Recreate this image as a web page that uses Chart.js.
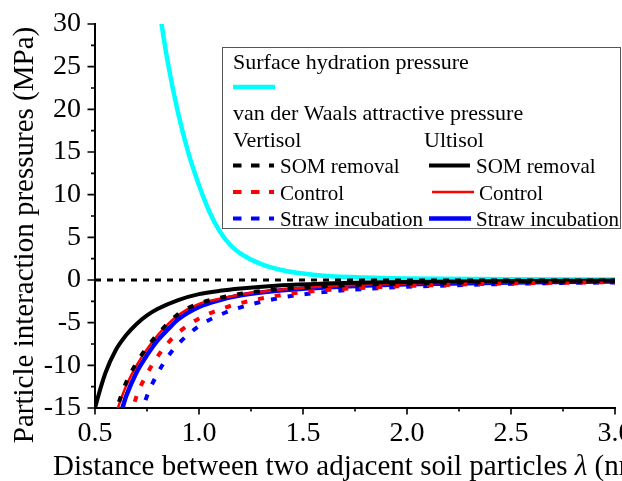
<!DOCTYPE html>
<html>
<head>
<meta charset="utf-8">
<script src="https://cdn.jsdelivr.net/npm/chart.js@4/dist/chart.umd.min.js"></script>
<style>
  html, body { margin: 0; padding: 0; background: #fff; }
  #wrap { width: 622px; height: 481px; position: relative; overflow: hidden; }
</style>
</head>
<body>
<div id="wrap"><canvas id="chart" width="622" height="481"></canvas></div>
<script>
// values (distance in nm, pressure in MPa)
const hydX = [0.8, 0.82, 0.85, 0.9, 0.95, 1.0, 1.05, 1.1, 1.15, 1.2, 1.3, 1.4, 1.5, 1.6, 1.8, 2.0, 2.5, 3.0];
const hydY = [33.5, 30.0, 25.5, 19.5, 14.8, 11.1, 8.0, 5.7, 4.1, 3.1, 1.85, 1.15, 0.75, 0.5, 0.28, 0.18, 0.08, 0.05];

const vertSomX = [0.59, 0.6, 0.65, 0.7, 0.75, 0.8, 0.9, 1.0, 1.1, 1.2, 1.4, 1.6, 1.8, 2.0, 2.5, 3.0];
const vertSomY = [-16.2, -15.4, -12.0, -9.7, -7.9, -6.4, -4.0, -2.75, -2.1, -1.62, -1.05, -0.72, -0.52, -0.4, -0.22, -0.14];

const vertCtrlX = [0.67, 0.683, 0.7, 0.75, 0.8, 0.85, 0.9, 1.0, 1.1, 1.2, 1.4, 1.6, 1.8, 2.0, 2.5, 3.0];
const vertCtrlY = [-16.2, -15.0, -13.6, -11.0, -9.0, -7.4, -6.2, -4.5, -3.45, -2.7, -1.75, -1.2, -0.9, -0.7, -0.4, -0.25];

const vertStrawX = [0.72, 0.731, 0.75, 0.8, 0.85, 0.9, 1.0, 1.1, 1.2, 1.4, 1.6, 1.8, 2.0, 2.5, 3.0];
const vertStrawY = [-16.0, -15.0, -13.6, -11.0, -9.0, -7.5, -5.4, -4.1, -3.2, -2.05, -1.42, -1.05, -0.8, -0.45, -0.28];

const ultSomX = [0.49, 0.5, 0.55, 0.6, 0.65, 0.7, 0.75, 0.8, 0.9, 1.0, 1.1, 1.2, 1.4, 1.6, 1.8, 2.0, 2.5, 3.0];
const ultSomY = [-16.0, -15.0, -10.9, -8.2, -6.45, -5.15, -4.15, -3.4, -2.35, -1.66, -1.27, -1.0, -0.62, -0.42, -0.3, -0.22, -0.11, -0.07];

const ultCtrlX = [0.6, 0.61, 0.65, 0.7, 0.75, 0.8, 0.85, 0.9, 1.0, 1.1, 1.2, 1.4, 1.6, 1.8, 2.0, 2.5, 3.0];
const ultCtrlY = [-15.8, -15.0, -12.4, -10.0, -8.1, -6.5, -5.2, -4.1, -2.8, -2.2, -1.7, -1.1, -0.75, -0.55, -0.42, -0.24, -0.15];

const ultStrawX = [0.62, 0.632, 0.65, 0.7, 0.75, 0.8, 0.85, 0.9, 1.0, 1.1, 1.2, 1.4, 1.6, 1.8, 2.0, 2.5, 3.0];
const ultStrawY = [-16.0, -15.0, -13.6, -10.8, -8.8, -7.1, -5.8, -4.6, -3.15, -2.35, -1.8, -1.2, -0.88, -0.65, -0.5, -0.28, -0.18];

const zeroX = [0.5, 3.0];
const zeroY = [0, 0];

const xTitle = ['Distance between two adjacent soil particles ', 'λ', ' (nm)'];
const yTitle = 'Particle interaction pressures (MPa)';
const treatments = ['SOM removal', 'Control', 'Straw incubation'];
const soils = ['Vertisol', 'Ultisol'];

const serif = "'Liberation Serif', 'Times New Roman', serif";
const pts = (xs, ys) => xs.map((v, i) => ({ x: v, y: ys[i] }));

function line(data, color, width, dash) {
    return {
        data,
        borderColor: color,
        borderWidth: width,
        borderDash: dash || [],
        pointRadius: 0,
        fill: false,
        cubicInterpolationMode: 'monotone',
    };
}

const datasets = [
    line(pts(zeroX, zeroY), '#000', 3, [6, 6]),
    line(pts(vertSomX, vertSomY), '#000', 4, [6, 11]),
    line(pts(vertCtrlX, vertCtrlY), '#ff0000', 4, [6, 11]),
    line(pts(vertStrawX, vertStrawY), '#0000ff', 4, [6, 11]),
    line(pts(ultSomX, ultSomY), '#000', 4),
    line(pts(ultCtrlX, ultCtrlY), '#ff0000', 2.5),
    line(pts(ultStrawX, ultStrawY), '#0000ff', 4.5),
    line(pts(hydX, hydY), '#00ffff', 4.5),
];

// axis ticks (major + minor), titles and the boxed legend
const decor = {
    id: 'decor',
    afterDraw(chart) {
        const { ctx, chartArea: a, scales: { x, y } } = chart;
        ctx.save();
        ctx.strokeStyle = '#000';
        ctx.lineWidth = 1.6;
        ctx.setLineDash([]);
        const xt = x.ticks.map(t => t.value), yt = y.ticks.map(t => t.value);
        ctx.beginPath();
        xt.forEach((v, i) => {
            const px = x.getPixelForValue(v);
            ctx.moveTo(px, a.bottom); ctx.lineTo(px, a.bottom + 6.5);
            if (i < xt.length - 1) {
                const mx = x.getPixelForValue((v + xt[i + 1]) / 2);
                ctx.moveTo(mx, a.bottom); ctx.lineTo(mx, a.bottom + 3.5);
            }
        });
        yt.forEach((v, i) => {
            const py = y.getPixelForValue(v);
            ctx.moveTo(a.left, py); ctx.lineTo(a.left - 7.5, py);
            if (i < yt.length - 1) {
                const my = y.getPixelForValue((v + yt[i + 1]) / 2);
                ctx.moveTo(a.left, my); ctx.lineTo(a.left - 4, my);
            }
        });
        ctx.stroke();

        // axis titles
        ctx.fillStyle = '#000';
        ctx.textAlign = 'left';
        ctx.textBaseline = 'alphabetic';
        let tx = 53;
        xTitle.forEach((part, i) => {
            ctx.font = (i === 1 ? 'italic ' : '') + '29px ' + serif;
            ctx.fillText(part, tx, 475);
            tx += ctx.measureText(part).width;
        });
        ctx.save();
        ctx.translate(33, 235);
        ctx.rotate(-Math.PI / 2);
        ctx.textAlign = 'center';
        ctx.font = '29px ' + serif;
        ctx.fillText(yTitle, 0, 0);
        ctx.restore();

        // legend box
        ctx.fillStyle = '#fff';
        ctx.fillRect(222.5, 47.5, 398, 181);
        ctx.strokeStyle = '#555';
        ctx.lineWidth = 1;
        ctx.strokeRect(222.5, 47.5, 398, 181);

        ctx.fillStyle = '#000';
        ctx.font = '22px ' + serif;
        ctx.fillText('Surface hydration pressure', 233, 69);
        ctx.fillText('van der Waals attractive pressure', 233, 120);
        ctx.fillText(soils[0], 233, 147);
        ctx.fillText(soils[1], 424, 147);

        ctx.strokeStyle = '#00ffff';
        ctx.lineWidth = 4.5;
        ctx.beginPath(); ctx.moveTo(233, 87); ctx.lineTo(275, 87); ctx.stroke();

        const colors = ['#000', '#ff0000', '#0000ff'];
        const solidW = [4, 2.5, 4.5];
        const solidX = [[429, 470], [432, 474], [429, 471]];
        const textX = [476, 479, 476];
        ctx.font = '21px ' + serif;
        treatments.forEach((name, i) => {
            const sy = 165.5 + i * 26.5;
            ctx.strokeStyle = colors[i];
            ctx.lineWidth = 4;
            ctx.setLineDash([8.5, 9.5]);
            ctx.beginPath(); ctx.moveTo(233, sy); ctx.lineTo(274, sy); ctx.stroke();
            ctx.setLineDash([]);
            ctx.lineWidth = solidW[i];
            ctx.beginPath(); ctx.moveTo(solidX[i][0], sy); ctx.lineTo(solidX[i][1], sy); ctx.stroke();
            ctx.fillStyle = '#000';
            ctx.fillText(name, 280, sy + 7.5);
            ctx.fillText(name, textX[i], sy + 7.5);
        });
        ctx.restore();
    },
};

new Chart(document.getElementById('chart'), {
    type: 'line',
    data: { datasets },
    plugins: [decor],
    options: {
        responsive: false,
        animation: false,
        devicePixelRatio: 1,
        layout: { padding: { top: 24, right: 7, left: 0, bottom: 0 } },
        plugins: { legend: { display: false }, tooltip: { enabled: false } },
        scales: {
            x: {
                type: 'linear',
                min: 0.5, max: 3.0,
                grid: { display: false, drawTicks: false },
                border: { display: true, color: '#000', width: 2 },
                ticks: {
                    stepSize: 0.5,
                    padding: 9,
                    maxRotation: 0,
                    color: '#000',
                    font: { family: serif, size: 28 },
                    callback: v => v.toFixed(1),
                },
                afterFit: s => { s.height = 73; s.paddingLeft = 0; s.paddingRight = 0; },
            },
            y: {
                min: -15, max: 30,
                grid: { display: false, drawTicks: false },
                border: { display: true, color: '#000', width: 2 },
                ticks: {
                    stepSize: 5,
                    padding: 14,
                    color: '#000',
                    font: { family: serif, size: 28 },
                },
                afterFit: s => { s.width = 95; s.paddingTop = 0; s.paddingBottom = 0; },
            },
        },
    },
});
</script>
</body>
</html>
